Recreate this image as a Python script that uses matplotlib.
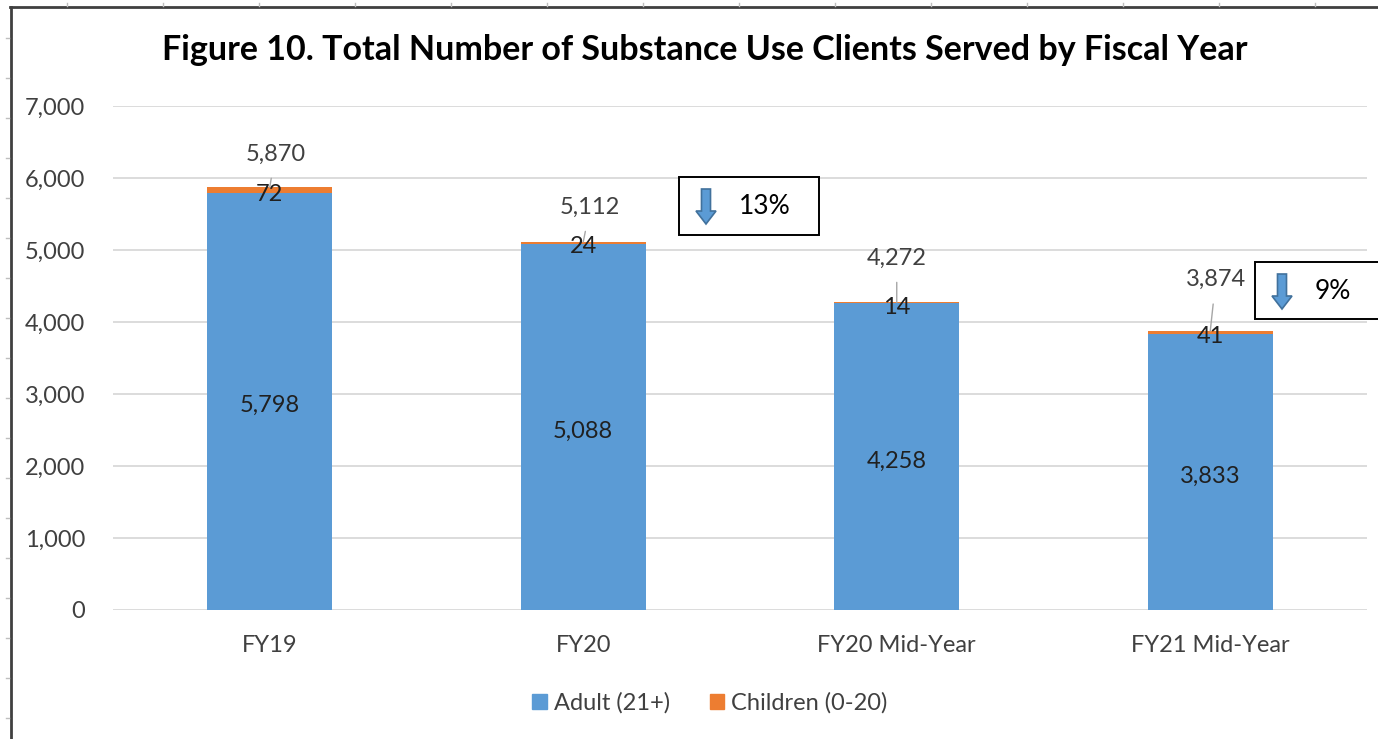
import matplotlib
matplotlib.use("Agg")
import matplotlib.pyplot as plt
from matplotlib.patches import Rectangle, Polygon
from matplotlib.lines import Line2D

# ---- data ----
categories = ["FY19", "FY20", "FY20 Mid-Year", "FY21 Mid-Year"]
adult = [5798, 5088, 4258, 3833]
children = [72, 24, 14, 41]
totals = [5870, 5112, 4272, 3874]
y_ticks = [0, 1000, 2000, 3000, 4000, 5000, 6000, 7000]
series_names = ["Adult (21+)", "Children (0-20)"]
title = "Figure 10. Total Number of Substance Use Clients Served by Fiscal Year"
# percent declines (FY19->FY20, FY20 MY->FY21 MY)
pct_pairs = [(0, 1), (2, 3)]

# ---- style ----
W, H = 1378, 739
C_ADULT = "#5B9BD5"
C_CHILD = "#ED7D31"
TXT = "#404040"
FONT = "Lato"
FS = 17
plt.rcParams["font.family"] = [FONT, "DejaVu Sans"]

fig = plt.figure(figsize=(W / 100, H / 100), dpi=100)
ax = fig.add_axes([113 / W, 1 - 610 / H, 1254 / W, (610 - 106) / H])

x = list(range(len(categories)))
bw = 0.40
ax.bar(x, adult, width=bw, color=C_ADULT, zorder=3)
ax.bar(x, children, width=bw, bottom=adult, color=C_CHILD, zorder=3)

ax.set_xlim(-0.5, len(categories) - 0.5)
ax.set_ylim(0, 7000)
ax.set_yticks(y_ticks)
ax.set_yticklabels([f"{v:,}" for v in y_ticks])
ax.set_xticks(x)
ax.set_xticklabels(categories)
ax.tick_params(axis="both", length=0, labelsize=FS, labelcolor=TXT)
ax.tick_params(axis="y", pad=20)
ax.tick_params(axis="x", pad=18)
ax.grid(axis="y", color="#D9D9D9", lw=1.3, zorder=0)
for s in ax.spines.values():
    s.set_visible(False)

# labels inside bars (slightly below centre, like the original)
for i in x:
    ax.annotate(f"{adult[i]:,}", xy=(i, adult[i] / 2), xytext=(0, -3),
                textcoords="offset points", ha="center", va="center",
                fontsize=FS, color="#202020", zorder=5)
    ax.annotate(f"{children[i]:,}", xy=(i, adult[i] + children[i] / 2), xytext=(0, -3),
                textcoords="offset points", ha="center", va="center",
                fontsize=FS, color="#202020", zorder=5)

# total labels with leader lines (offsets in points)
offsets = [(4, 24), (5, 25), (0, 32), (4, 37)]
for i in x:
    ax.annotate(f"{totals[i]:,}", xy=(i, totals[i]), xytext=offsets[i],
                textcoords="offset points", ha="center", va="center",
                fontsize=FS, color=TXT, zorder=6,
                arrowprops=dict(arrowstyle="-", color="#A6A6A6", lw=1,
                                shrinkA=8, shrinkB=0))

# title
fig.text(705 / W, 1 - 50 / H, title, ha="center", va="center",
         fontsize=24.5, fontweight="bold", color="black")

# legend
handles = [Rectangle((0, 0), 1, 1, color=C_ADULT),
           Rectangle((0, 0), 1, 1, color=C_CHILD)]
fig.legend(handles, series_names, loc="center", bbox_to_anchor=(710 / W, 1 - 703 / H),
           ncol=2, frameon=False, fontsize=FS, handlelength=0.6, handleheight=0.6,
           handletextpad=0.3, columnspacing=1.7, labelcolor=TXT)


def fp(px, py):
    return (px / W, 1 - py / H)


# callout boxes with arrows
boxes = [(679, 177, 140, 58), (1255, 262, 130, 57)]
for (pa, pb), (bx, by, bwid, bh) in zip(pct_pairs, boxes):
    pct = round((totals[pa] - totals[pb]) / totals[pa] * 100)
    fig.patches.append(Rectangle(fp(bx, by + bh), bwid / W, bh / H,
                                 transform=fig.transFigure, facecolor="white",
                                 edgecolor="black", lw=1.4, zorder=10))
    ax_c = bx + 27
    top, bot = by + 12, by + 47
    sw, hw, hl = 4.5, 10, 13
    verts = [(ax_c - sw, top), (ax_c + sw, top), (ax_c + sw, bot - hl),
             (ax_c + hw, bot - hl), (ax_c, bot), (ax_c - hw, bot - hl),
             (ax_c - sw, bot - hl)]
    fig.patches.append(Polygon([fp(*v) for v in verts], closed=True,
                               transform=fig.transFigure, facecolor="#5B9BD5",
                               edgecolor="#41719C", lw=1.2, zorder=11))
    fig.text((ax_c + 33) / W, 1 - (by + bh / 2 + 1) / H, f"{pct}%", ha="left",
             va="center", fontsize=19, color="black", zorder=12)

# outer frame (left and top borders) with ruler marks
fig.add_artist(Line2D([11 / W, 11 / W], [0, 1 - 7 / H], transform=fig.transFigure,
                      color="#404040", lw=2))
fig.add_artist(Line2D([10 / W, 1], [1 - 7 / H, 1 - 7 / H], transform=fig.transFigure,
                      color="#404040", lw=2))
for ty in range(38, H, 40):
    fig.add_artist(Line2D([6 / W, 9 / W], [1 - ty / H] * 2, transform=fig.transFigure,
                          color="#BFBFBF", lw=1))
for tx in range(67, W, 96):
    fig.add_artist(Line2D([tx / W] * 2, [1 - 3 / H, 1 - 6 / H], transform=fig.transFigure,
                          color="#BFBFBF", lw=1))

fig.savefig("out.png", dpi=100, facecolor="white")
